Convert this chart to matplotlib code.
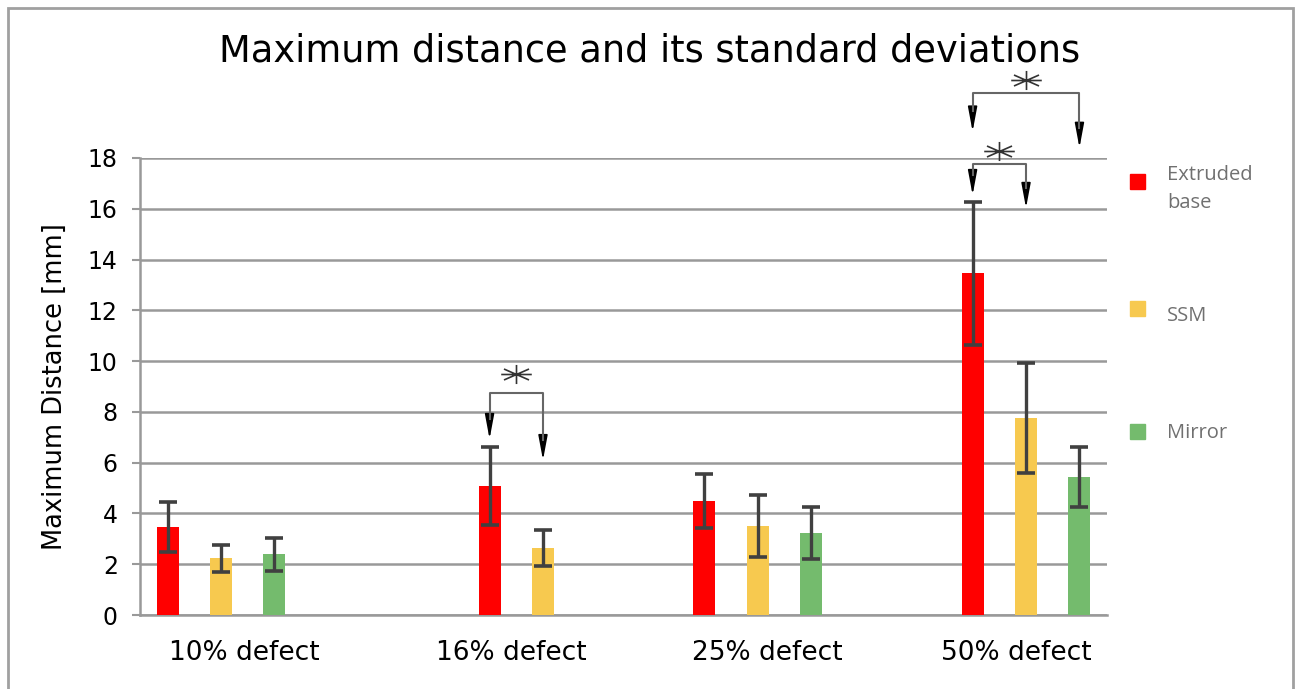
import numpy as np
import matplotlib
matplotlib.use("Agg")
import matplotlib.pyplot as plt
from matplotlib.path import Path
from matplotlib.patches import Rectangle

# data
categories = ['10% defect', '16% defect', '25% defect', '50% defect']
series = ['Extruded\nbase', 'SSM', 'Mirror']
extruded = [3.47, 5.08, 4.49, 13.46]
extruded_sd = [0.99, 1.54, 1.07, 2.81]
ssm = [2.23, 2.64, 3.51, 7.76]
ssm_sd = [0.53, 0.70, 1.23, 2.15]
mirror = [2.40, np.nan, 3.23, 5.44]
mirror_sd = [0.65, np.nan, 1.03, 1.19]

# significance brackets: (group, bar a, bar b, bracket y, tip a, tip b, star y)
sig = [
    (1, 0, 1, 8.76, 6.93, 6.10, 9.49),
    (3, 0, 2, 20.55, 19.04, 18.40, 21.07),
    (3, 0, 1, 17.77, 16.54, 16.03, 18.29),
]

colors = ['#FF0000', '#F7C94F', '#74BB6D']

# layout (the groups in the original are not evenly spaced)
group_x = [0.335, 1.667, 2.556, 3.665]
label_x = [0.430, 1.535, 2.594, 3.624]
offsets = [-0.221, 0.0, 0.221]
bar_w = 0.091

fig = plt.figure(figsize=(13.01, 6.89), dpi=100)
ax = fig.add_axes([0.1076, 0.1074, 0.7433, 0.6633])

values = [extruded, ssm, mirror]
sds = [extruded_sd, ssm_sd, mirror_sd]
for i in range(3):
    xs = np.array(group_x) + offsets[i]
    ax.bar(xs, values[i], width=bar_w, color=colors[i], zorder=3, label=series[i])
    ax.errorbar(xs, values[i], yerr=sds[i], fmt='none', ecolor='#404040',
                elinewidth=2.4, capsize=6.5, capthick=2.6, zorder=4)

ax.set_xlim(0, 4)
ax.set_ylim(0, 18)
ax.set_yticks(range(0, 19, 2))
ax.set_xticks(label_x)
ax.set_xticklabels(categories, fontsize=19)
ax.tick_params(axis='x', length=0, pad=18)
ax.tick_params(axis='y', labelsize=17, length=6, width=1.5, color='#999999', pad=10)
ax.yaxis.grid(True, color='#999999', linewidth=1.8, zorder=0)
ax.set_axisbelow(True)
for s in ['top', 'right']:
    ax.spines[s].set_visible(False)
for s in ['left', 'bottom']:
    ax.spines[s].set_color('#999999')
    ax.spines[s].set_linewidth(1.8)
ax.set_ylabel('Maximum Distance [mm]', fontsize=18.5, labelpad=14)

# asterisk marker, stretched horizontally
ang = np.deg2rad([0, 35, 90, 145])
verts, codes = [], []
for a in ang:
    verts += [(-1.6 * np.cos(a), -np.sin(a)), (1.6 * np.cos(a), np.sin(a))]
    codes += [Path.MOVETO, Path.LINETO]
star = Path(verts, codes)

for g, a, b, yh, ta, tb, ys in sig:
    xa = group_x[g] + offsets[a]
    xb = group_x[g] + offsets[b]
    ax.plot([xa, xa, xb, xb], [ta + 0.8, yh, yh, tb + 0.8], color='#666666',
            lw=1.5, clip_on=False, zorder=5)
    for x, t in [(xa, ta), (xb, tb)]:
        ax.annotate('', xy=(x, t), xytext=(x, t + 0.9), annotation_clip=False,
                    arrowprops=dict(arrowstyle='-|>,head_length=1.5,head_width=0.28',
                                    color='black', lw=1.2, shrinkA=0, shrinkB=0))
    ax.plot([(xa + xb) / 2], [ys], marker=star, markersize=22, color='#333333',
            markeredgewidth=1.2, linestyle='none', clip_on=False, zorder=5)

# legend drawn as separate entries, like the original
leg_y = [0.736, 0.552, 0.374]
leg_ty = [0.726, 0.542, 0.372]
for i in range(3):
    fig.patches.append(Rectangle((1130 / 1301, leg_y[i] - 7.5 / 689), 15 / 1301, 15 / 689,
                                 transform=fig.transFigure, color=colors[i]))
    fig.text(1167 / 1301, leg_ty[i], series[i], fontsize=14.5, family='Open Sans',
             color='#707070', va='center', linespacing=1.55)

fig.text(0.4996, 0.926, 'Maximum distance and its standard deviations',
         fontsize=26.5, ha='center', va='center')

fig.patches.append(Rectangle((8 / 1301, -0.01), 1285 / 1301, 1.0 - 8 / 689 + 0.01,
                             transform=fig.transFigure, fill=False,
                             edgecolor='#a0a0a0', linewidth=2))

fig.savefig('out.png', dpi=100)
